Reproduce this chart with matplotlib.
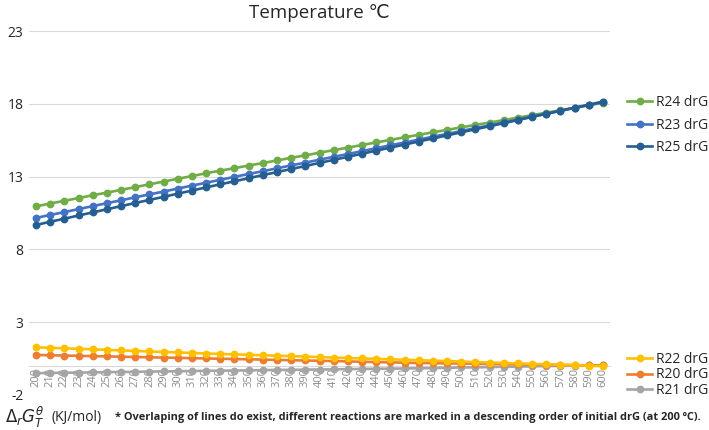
import matplotlib
matplotlib.use("Agg")
import matplotlib.pyplot as plt
from matplotlib.lines import Line2D

plt.rcParams['font.family'] = ['Open Sans', 'DejaVu Sans']

temps = list(range(200, 601, 10))
temp_labels = [str(t) for t in temps]

r24 = [10.96, 11.15, 11.34, 11.53, 11.72, 11.90, 12.09, 12.28, 12.47, 12.66,
       12.85, 13.04, 13.23, 13.41, 13.58, 13.76, 13.93, 14.11, 14.29, 14.46,
       14.64, 14.82, 14.99, 15.17, 15.35, 15.52, 15.70, 15.87, 16.04, 16.21,
       16.38, 16.55, 16.71, 16.88, 17.05, 17.22, 17.39, 17.56, 17.73, 17.90,
       18.07]
r23 = [10.16, 10.37, 10.56, 10.77, 10.97, 11.18, 11.37, 11.58, 11.78, 11.97,
       12.18, 12.38, 12.58, 12.78, 12.98, 13.18, 13.37, 13.57, 13.77, 13.96,
       14.16, 14.36, 14.55, 14.75, 14.95, 15.15, 15.34, 15.54, 15.74, 15.93,
       16.13, 16.33, 16.52, 16.72, 16.92, 17.13, 17.32, 17.52, 17.72, 17.91,
       18.11]
r25 = [9.68, 9.90, 10.11, 10.33, 10.54, 10.76, 10.97, 11.19, 11.40, 11.61,
       11.83, 12.04, 12.26, 12.47, 12.68, 12.89, 13.10, 13.31, 13.52, 13.73,
       13.94, 14.15, 14.36, 14.57, 14.78, 14.99, 15.20, 15.41, 15.62, 15.83,
       16.04, 16.25, 16.46, 16.67, 16.88, 17.10, 17.31, 17.52, 17.73, 17.94,
       18.15]
r22 = [1.28, 1.24, 1.21, 1.17, 1.14, 1.10, 1.06, 1.03, 0.99, 0.96,
       0.92, 0.89, 0.85, 0.82, 0.79, 0.76, 0.73, 0.70, 0.67, 0.64,
       0.60, 0.57, 0.54, 0.51, 0.48, 0.45, 0.42, 0.39, 0.36, 0.33,
       0.30, 0.26, 0.23, 0.20, 0.17, 0.14, 0.11, 0.08, 0.05, 0.01,
       -0.02]
r20 = [0.75, 0.73, 0.71, 0.69, 0.67, 0.65, 0.63, 0.61, 0.59, 0.57,
       0.55, 0.53, 0.51, 0.49, 0.47, 0.45, 0.43, 0.41, 0.39, 0.37,
       0.35, 0.33, 0.31, 0.28, 0.26, 0.24, 0.22, 0.20, 0.19, 0.17,
       0.16, 0.15, 0.13, 0.12, 0.10, 0.09, 0.08, 0.06, 0.05, 0.04,
       0.03]
r21 = [-0.50, -0.49, -0.47, -0.46, -0.45, -0.43, -0.42, -0.41, -0.39, -0.38,
       -0.37, -0.35, -0.34, -0.33, -0.32, -0.31, -0.29, -0.28, -0.27, -0.26,
       -0.25, -0.24, -0.22, -0.21, -0.20, -0.19, -0.18, -0.16, -0.15, -0.13,
       -0.11, -0.10, -0.08, -0.06, -0.05, -0.03, -0.01, 0.00, 0.02, 0.03,
       0.05]

y_ticks = [-2, 3, 8, 13, 18, 23]

upper = [("R24 drG", r24, "#70AD47"), ("R23 drG", r23, "#4472C4"), ("R25 drG", r25, "#255E91")]
lower = [("R22 drG", r22, "#FFC000"), ("R20 drG", r20, "#ED7D31"), ("R21 drG", r21, "#A5A5A5")]

fig = plt.figure(figsize=(7.09, 4.30), dpi=100)
ax = fig.add_axes([0.0409, 0.0814, 0.8195, 0.8465])

x = list(range(len(temps)))
lw = 1.9
ms = 4.6

upper_handles = []
for i, (name, vals, col) in enumerate(upper):
    ax.plot(x, vals, color=col, lw=lw, marker='o', ms=ms, zorder=3 + i)
    upper_handles.append(Line2D([0], [0], color=col, lw=lw, marker='o', ms=ms))

lower_handles = []
zs = {"R22 drG": 6, "R20 drG": 5, "R21 drG": 4}
for name, vals, col in lower:
    ax.plot(x, vals, color=col, lw=lw, marker='o', ms=ms, zorder=zs[name])
    lower_handles.append(Line2D([0], [0], color=col, lw=lw, marker='o', ms=ms))

ax.set_xlim(-0.5, len(temps) - 0.5)
ax.set_ylim(-2, 23)
ax.set_yticks(y_ticks)
ax.set_yticklabels([str(v) for v in y_ticks])
ax.yaxis.grid(True, color="#D9D9D9", lw=0.8)
ax.set_axisbelow(True)

for s in ['top', 'right', 'left']:
    ax.spines[s].set_visible(False)
ax.spines['bottom'].set_position(('data', 0))
ax.spines['bottom'].set_color("#D9D9D9")
ax.spines['bottom'].set_linewidth(0.8)

ax.set_xticks(x)
ax.set_xticklabels(temp_labels, rotation=90, fontsize=8, color="#8C8C8C")
ax.tick_params(axis='x', length=0, pad=1.5)
ax.tick_params(axis='y', length=0, pad=4, labelsize=10, labelcolor="#262626")

fig.text(0.4506, 0.957, "Temperature ℃", fontsize=13.5, color="#262626",
         ha='center', va='baseline')

leg1 = fig.legend(upper_handles, [u[0] for u in upper], loc='upper left',
                  bbox_to_anchor=(0.884, 0.779), frameon=False, fontsize=10,
                  handlelength=1.85, handletextpad=0.25, labelspacing=0.55,
                  borderaxespad=0, borderpad=0)
leg2 = fig.legend(lower_handles, [u[0] for u in lower], loc='upper left',
                  bbox_to_anchor=(0.884, 0.182), frameon=False, fontsize=10,
                  handlelength=1.85, handletextpad=0.25, labelspacing=0.05,
                  borderaxespad=0, borderpad=0)
for leg in (leg1, leg2):
    for t in leg.get_texts():
        t.set_color("#262626")

fig.text(0.007, 0.03, r"$\Delta_r G_T^\theta$", fontsize=12, color="#262626", va='center')
fig.text(0.073, 0.03, "(KJ/mol)", fontsize=10, color="#262626", va='center')
fig.text(0.162, 0.03, "* Overlaping of lines do exist, different reactions are marked in a descending order of initial drG (at 200 ºC).",
         fontsize=7.95, fontweight='bold', color="#262626", va='center')

fig.savefig("out.png", dpi=100)
